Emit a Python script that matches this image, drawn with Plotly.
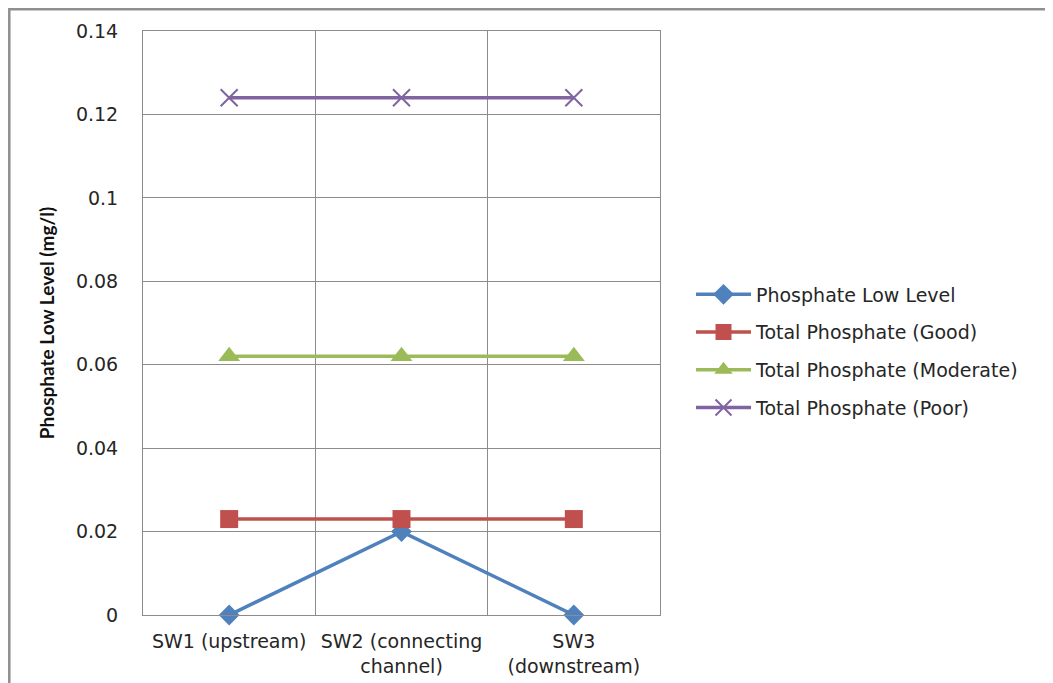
import plotly.graph_objects as go

categories = ["SW1 (upstream)", "SW2 (connecting<br>channel)", "SW3<br>(downstream)"]
low_level = [0.0, 0.02, 0.0]
tp_good = [0.023, 0.023, 0.023]
tp_moderate = [0.062, 0.062, 0.062]
tp_poor = [0.124, 0.124, 0.124]
y_ticks = [0, 0.02, 0.04, 0.06, 0.08, 0.1, 0.12, 0.14]
y_tick_text = ["0", "0.02", "0.04", "0.06", "0.08", "0.1", "0.12", "0.14"]

series = [
    ("Phosphate Low Level", low_level, "#4F81BD", "diamond", 16, None),
    ("Total Phosphate (Good)", tp_good, "#C0504D", "square", 18, None),
    ("Total Phosphate (Moderate)", tp_moderate, "#9BBB59", "triangle-up", 19, None),
    ("Total Phosphate (Poor)", tp_poor, "#8064A2", "x-thin-open", 17, 2),
]

FONT = "DejaVu Sans"
TXT = "#262626"
fig = go.Figure()
for i, (name, vals, color, sym, size, lw) in enumerate(series):
    marker = dict(symbol=sym, size=size, color=color)
    if lw:
        marker["line"] = dict(width=lw, color=color)
    fig.add_trace(go.Scatter(
        x=categories, y=vals, name=name, mode="lines+markers",
        line=dict(color=color, width=3.5), marker=marker,
        legendgroup=f"g{i}", cliponaxis=False,
    ))

OFF = 8  # page body margin
W, H = 1053 - OFF, 683 - OFF
L, R, T, B = 143 - OFF, 660 - OFF, 31 - OFF, 615 - OFF
pw, ph = R - L, B - T

def px(x):
    return (x - OFF - L) / pw

def py(y):
    return (B - (y - OFF)) / ph

fig.add_shape(type="rect", xref="paper", yref="paper",
              x0=px(9.3), y0=py(720), x1=px(1080), y1=py(9.3),
              line=dict(color="#8F8F8F", width=2.5), fillcolor="rgba(0,0,0,0)", layer="below")

fig.update_layout(
    width=W, height=H,
    margin=dict(l=L, r=W - R, t=T, b=H - B, pad=0, autoexpand=False),
    paper_bgcolor="white", plot_bgcolor="white",
    font=dict(family=FONT, size=19, color=TXT),
    showlegend=True,
    legend=dict(x=px(691), y=py(351), xanchor="left", yanchor="middle",
                font=dict(family=FONT, size=19, color=TXT),
                itemwidth=55, tracegroupgap=10, bgcolor="rgba(0,0,0,0)"),
    xaxis=dict(type="category", tickson="boundaries", showgrid=True, automargin=False,
               gridcolor="#8C8C8C", gridwidth=1, showline=True, linecolor="#8C8C8C",
               mirror=True, ticks="", ticklabelstandoff=9,
               tickfont=dict(family=FONT, size=19, color=TXT),
               range=[-0.5, 2.5]),
    yaxis=dict(range=[0, 0.14], tickvals=y_ticks, ticktext=y_tick_text, automargin=False,
               showgrid=True, gridcolor="#8C8C8C", gridwidth=1, showline=True,
               linecolor="#8C8C8C", mirror=True, ticks="outside", ticklen=20,
               tickcolor="rgba(0,0,0,0)", zeroline=False,
               tickfont=dict(family=FONT, size=19, color=TXT),
               title=dict(text="<b>Phosphate Low Level (mg/l)</b>",
                          font=dict(family="Lato", size=19, color="#111111"), standoff=16)),
)

fig.write_html("out.html")
